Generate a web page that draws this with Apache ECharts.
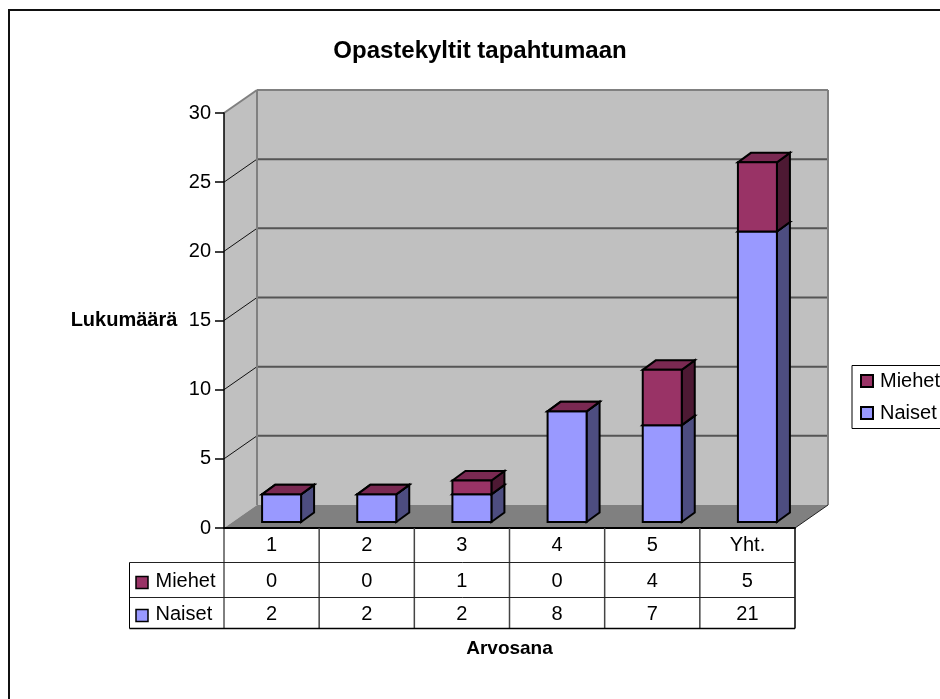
<!DOCTYPE html>
<html><head><meta charset="utf-8">
<style>html,body{margin:0;padding:0;background:#fff}#c{width:940px;height:699px}</style>
<script src="https://cdn.jsdelivr.net/npm/echarts@6/dist/echarts.min.js"></script>
</head><body><div id="c"></div>
<script>
var categories = ['1','2','3','4','5','Yht.'];
var naiset = [2,2,2,8,7,21];
var miehet = [0,0,1,0,4,5];
var yTicks = [0,5,10,15,20,25,30];
var FONT = '"Liberation Sans", Arial, sans-serif';
var DEPTH = [33, -23];          // floor depth of the 3D box
var BAR_OFF = [10, -6];         // front face of bars relative to the front plane
var BAR_DEPTH = [13, -9.5];
var BAR_W = 39;
var C_N = {f:'#9999FF', s:'#4D4D80', t:'#7A7ACC'};
var C_M = {f:'#993366', s:'#4D1933', t:'#7A2952'};

function poly(pts, fill, stroke, lw){
  return {type:'polygon', shape:{points:pts}, style:{fill:fill, stroke:stroke||null, lineWidth:lw||0}};
}
function line(a,b,color,lw){
  return {type:'line', shape:{x1:a[0],y1:a[1],x2:b[0],y2:b[1]}, style:{stroke:color,lineWidth:lw,fill:null}};
}
function sh(p,d){return [p[0]+d[0],p[1]+d[1]];}

function renderWalls(params, api){
  var cs = params.coordSys;
  var xL = cs.x, xR = cs.x+cs.width;
  var y0 = api.coord([0,0])[1], yT = api.coord([0,30])[1];
  var ch = [];
  ch.push(poly([[xL,yT],sh([xL,yT],DEPTH),sh([xL,y0],DEPTH),[xL,y0]],'#C0C0C0'));
  ch.push(poly([sh([xL,yT],DEPTH),sh([xR,yT],DEPTH),sh([xR,y0],DEPTH),sh([xL,y0],DEPTH)],'#C0C0C0'));
  ch.push(poly([[xL,y0],sh([xL,y0],DEPTH),sh([xR,y0],DEPTH),[xR,y0]],'#808080'));
  yTicks.forEach(function(t){
    if(t===0) return;
    var y = api.coord([0,t])[1];
    if(t===30){
      ch.push(line([xL,y],sh([xL,y],DEPTH),'#808080',2));
      ch.push(line(sh([xL,y],DEPTH),sh([xR,y],DEPTH),'#808080',2));
    } else {
      ch.push(line([xL,y],sh([xL,y],DEPTH),'#111',1));
      ch.push(line(sh([xL,y],DEPTH),sh([xR,y],DEPTH),'#555',2));
    }
  });
  ch.push(line(sh([xL,yT],DEPTH),sh([xL,y0],DEPTH),'#808080',2));
  ch.push(line(sh([xR,yT],DEPTH),sh([xR,y0],DEPTH),'#808080',2));
  ch.push(line(sh([xR,y0],DEPTH),[xR,y0],'#222',1));
  return {type:'group', children:ch};
}

function bar3d(col){
  return function(params, api){
    var i = api.value(0), lo = api.value(1), hi = api.value(2);
    var cx = api.coord([i,0])[0]+BAR_OFF[0];
    var yl = api.coord([i,lo])[1]+BAR_OFF[1], yh = api.coord([i,hi])[1]+BAR_OFF[1];
    var x0 = cx-BAR_W/2, x1 = cx+BAR_W/2;
    var st = '#000', lw = 2, ch = [];
    ch.push(poly([[x1,yl],sh([x1,yl],BAR_DEPTH),sh([x1,yh],BAR_DEPTH),[x1,yh]],col.s,st,lw));
    ch.push(poly([[x0,yh],sh([x0,yh],BAR_DEPTH),sh([x1,yh],BAR_DEPTH),[x1,yh]],col.t,st,lw));
    if(hi>lo) ch.push(poly([[x0,yl],[x1,yl],[x1,yh],[x0,yh]],col.f,st,lw));
    return {type:'group', children:ch};
  };
}

var rowY = [562.5, 597.5, 628.5];
function renderTable(params, api){
  var cs = params.coordSys, ch = [];
  var xL = cs.x, xR = cs.x+cs.width, y0 = cs.y+cs.height;
  var cw = cs.width/categories.length, tx = 129.5;
  var c = '#222';
  ch.push(line([xL,y0],[xL,rowY[2]],'#000',1));
  for(var k=1;k<=categories.length;k++){
    ch.push(line([xL+k*cw,y0],[xL+k*cw,rowY[2]],k===categories.length?'#000':'#444',1.5));
  }
  ch.push(line([tx,rowY[0]],[xR,rowY[0]],c,1));
  ch.push(line([tx,rowY[1]],[xR,rowY[1]],c,1));
  ch.push(line([tx,rowY[2]],[xR,rowY[2]],'#000',1.5));
  ch.push(line([tx,rowY[0]],[tx,rowY[2]],'#000',1));
  [[ 'Miehet',miehet,C_M,(rowY[0]+rowY[1])/2 ],[ 'Naiset',naiset,C_N,(rowY[1]+rowY[2])/2 ]].forEach(function(r){
    ch.push({type:'rect',shape:{x:136,y:r[3]-3.5,width:12,height:12},style:{fill:r[2].f,stroke:'#000',lineWidth:1.5}});
    ch.push({type:'text',style:{text:r[0],x:155.5,y:r[3]+1,fill:'#000',font:'20px '+FONT,textAlign:'left',textVerticalAlign:'middle'}});
    r[1].forEach(function(v,i){
      ch.push({type:'text',style:{text:String(v),x:api.coord([i,0])[0],y:r[3]+1,fill:'#000',font:'20px '+FONT,textAlign:'center',textVerticalAlign:'middle'}});
    });
  });
  return {type:'group', children:ch};
}

function pairs(arr, base){
  return arr.map(function(v,i){return [i, base?base[i]:0, (base?base[i]:0)+v];});
}

var chart = echarts.init(document.getElementById('c'), null, {renderer:'canvas'});
chart.setOption({
  animation:false,
  backgroundColor:'#fff',
  title:{text:'Opastekyltit tapahtumaan', left:475, top:34, textAlign:'center',
    textStyle:{fontFamily:FONT,fontSize:24,fontWeight:'bold',color:'#000'}},
  legend:{data:['Miehet','Naiset'], orient:'vertical', left:852, top:365.5, icon:'rect',
    itemWidth:12,itemHeight:12,itemGap:12, padding:[5.5,12,5.5,8], borderColor:'#000', borderWidth:1,
    backgroundColor:'#fff', selectedMode:false,
    textStyle:{fontFamily:FONT,fontSize:20,color:'#000',padding:[0,0,0,2]}},
  grid:{left:224,right:145,top:113,bottom:171,containLabel:false},
  xAxis:{type:'category',data:categories,z:5,
    axisLine:{lineStyle:{color:'#000',width:2}},axisTick:{show:false},
    axisLabel:{fontFamily:FONT,fontSize:20,color:'#000',margin:7},
    name:'Arvosana',nameLocation:'middle',nameGap:111,
    nameTextStyle:{fontFamily:FONT,fontSize:19,fontWeight:'bold',color:'#000'}},
  yAxis:{type:'value',min:0,max:30,interval:5,z:5,
    axisLine:{show:true,lineStyle:{color:'#000',width:1.5}},
    axisTick:{show:true,length:9,lineStyle:{color:'#000',width:1.5}},
    axisLabel:{fontFamily:FONT,fontSize:20,color:'#000',margin:13},
    splitLine:{show:false},
    name:'Lukumäärä',nameLocation:'middle',nameGap:100,nameRotate:0,
    nameTextStyle:{fontFamily:FONT,fontSize:20,fontWeight:'bold',color:'#000',align:'center'}},
  graphic:[{type:'rect',silent:true,z:-1,shape:{x:9,y:10,width:1000,height:800},
    style:{fill:'#fff',stroke:'#111',lineWidth:2}}],
  series:[
    {type:'custom',name:'walls',z:1,silent:true,data:[[0]],renderItem:renderWalls,clip:false,encode:{x:0}},
    {type:'custom',name:'Naiset',z:6,data:pairs(naiset),renderItem:bar3d(C_N),itemStyle:{color:C_N.f,borderColor:'#000',borderWidth:1},encode:{x:0,y:[1,2]}},
    {type:'custom',name:'Miehet',z:7,data:pairs(miehet,naiset),renderItem:bar3d(C_M),itemStyle:{color:C_M.f,borderColor:'#000',borderWidth:1},encode:{x:0,y:[1,2]}},
    {type:'custom',name:'table',z:8,silent:true,data:[[0]],renderItem:renderTable,clip:false,encode:{x:0}}
  ]
});
</script></body></html>
